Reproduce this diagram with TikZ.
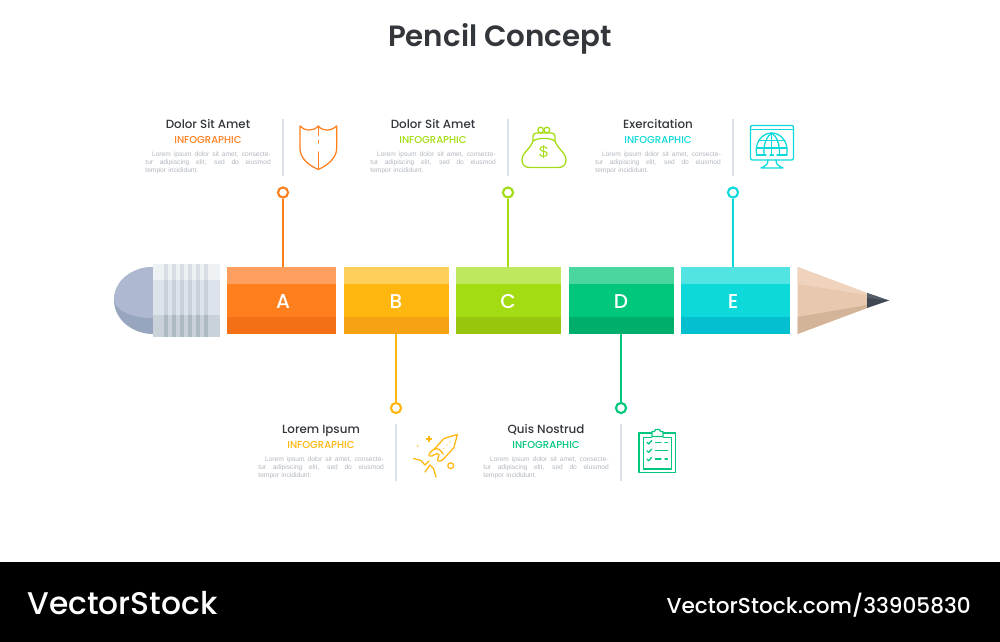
\documentclass[tikz,border=0pt]{standalone}
\usepackage{fontspec}
\setmainfont{Poppins}
\newfontfamily\medfont{Poppins Medium}
\newfontfamily\semifont{Poppins SemiBold}
\newfontfamily\loremfont{Liberation Sans}
\usetikzlibrary{calc}

% colours of the five pencil parts
\definecolor{colA}{HTML}{FF7F1E}
\definecolor{colAtop}{HTML}{FF9F5F}
\definecolor{colAbot}{HTML}{F37016}
\definecolor{colB}{HTML}{FFB60F}
\definecolor{colBtop}{HTML}{FFCF5C}
\definecolor{colBbot}{HTML}{F5A313}
\definecolor{colC}{HTML}{A3DC12}
\definecolor{colCtop}{HTML}{BFE85F}
\definecolor{colCbot}{HTML}{98C60C}
\definecolor{colD}{HTML}{00C77C}
\definecolor{colDtop}{HTML}{4BD6A0}
\definecolor{colDbot}{HTML}{00AE6C}
\definecolor{colE}{HTML}{0DD9DA}
\definecolor{colEtop}{HTML}{52E4E2}
\definecolor{colEbot}{HTML}{03BFCF}
\definecolor{divcol}{HTML}{DDE2E8}
\definecolor{inkcol}{HTML}{33363B}
\definecolor{loremcol}{HTML}{B0B6BE}

\newcommand{\loremline}[1]{\makebox[94pt][s]{\spaceskip=0pt #1}}

\tikzset{
    segbox/.style={inner sep=0pt, outer sep=0pt},
    seglabel/.style={text=white, font=\medfont\fontsize{15}{15}\selectfont},
    ringnode/.style={circle, draw, line width=1.6pt, fill=white, minimum size=7.6pt, inner sep=0pt},
    headlabel/.style={text=inkcol, anchor=base, font=\medfont\fontsize{8.9}{10}\selectfont},
    infolabel/.style={anchor=base, font=\medfont\fontsize{7.5}{8}\selectfont},
    loremlabel/.style={text=loremcol, inner sep=0pt, anchor=north east, align=left, text width=94pt,
        font=\loremfont\fontsize{5}{6}\selectfont},
    iconline/.style={line width=0.95pt, line join=round, line cap=round},
}

\begin{document}
\begin{tikzpicture}[x=0.75pt, y=-0.75pt]

    \useasboundingbox (0, 0) rectangle (1000, 642);

    % title
    \node[text=inkcol, font=\semifont\fontsize{22}{24}\selectfont] (title) at (500, 38.5) {Pencil Concept};

    % eraser
    \fill[color={rgb,255:red,151;green,165;blue,191}] (153, 267) .. controls (132, 267) and (114, 281) .. (114, 300)
        .. controls (114, 319) and (132, 334) .. (153, 334) -- cycle;
    \fill[color={rgb,255:red,174;green,184;blue,208}] (153, 267) .. controls (132, 267) and (114, 281) .. (114, 300)
        .. controls (116, 311) and (132, 318) .. (153, 318) -- cycle;

    % metal band of the eraser
    \fill[color={rgb,255:red,238;green,242;blue,245}] (153, 264) rectangle (219.5, 280);
    \fill[color={rgb,255:red,221;green,227;blue,234}] (153, 280) rectangle (219.5, 315);
    \fill[color={rgb,255:red,201;green,210;blue,217}] (153, 315) rectangle (219.5, 337);
    \foreach \x in {164, 172, 180, 188, 196, 204} {
        \fill[color={rgb,255:red,216;green,222;blue,228}] (\x, 264) rectangle (\x+4, 280);
        \fill[color={rgb,255:red,200;green,208;blue,216}] (\x, 280) rectangle (\x+4, 315);
        \fill[color={rgb,255:red,172;green,185;blue,192}] (\x, 315) rectangle (\x+4, 337);
    }

    % the five parts of the body
    \foreach \name/\left/\right/\letx in {A/227/336/283, B/344/449/396, C/456/561/508, D/569/674/621, E/681/790/733} {
        \node[segbox, fill=col\name, minimum width={(\right-\left)*0.75pt}, minimum height=50.25pt]
            (seg\name) at ({(\left+\right)/2}, 300.5) {};
        \fill[col\name top] (seg\name.north west) rectangle ([shift={(0, 17)}]seg\name.north east);
        \fill[col\name bot] ([shift={(0, -17)}]seg\name.south west) rectangle (seg\name.south east);
        \node[seglabel] (let\name) at (\letx, 301.5) {\name};
    }

    % wooden tip
    \fill[color={rgb,255:red,232;green,201;blue,175}] (797.5, 267) -- (867, 293) -- (867, 308) -- (797.5, 334) -- cycle;
    \fill[color={rgb,255:red,240;green,211;blue,188}] (797.5, 267) -- (867, 293) -- (867, 295) -- (797.5, 284) -- cycle;
    \fill[color={rgb,255:red,212;green,180;blue,152}] (797.5, 334) -- (867, 308) -- (867, 305) -- (797.5, 317) -- cycle;
    \fill[color={rgb,255:red,63;green,71;blue,83}] (867, 293) -- (889, 300.5) -- (867, 308) -- cycle;
    \fill[color={rgb,255:red,85;green,92;blue,106}] (867, 293) -- (889, 300.5) -- (867, 298) -- cycle;

    % text blocks with divider, ring and connector
    \foreach \name/\dx/\dy/\head in {A/0/0/Dolor Sit Amet, B/113/305/Lorem Ipsum, C/225/0/Dolor Sit Amet, D/338/305/Quis Nostrud, E/450/0/Exercitation} {
        \coordinate (divtop\name) at (283+\dx, 119+\dy);
        \coordinate (divbot\name) at (283+\dx, 176+\dy);
        \draw[divcol, line width=1.5pt] (divtop\name) -- (divbot\name);
        \node[headlabel] (head\name) at (208+\dx, 128.5+\dy) {\head};
        \node[infolabel, text=col\name] (info\name) at (208+\dx, 143.5+\dy) {INFOGRAPHIC};
        \node[loremlabel] (lorem\name) at (271+\dx, 151.5+\dy) {%
            \loremline{\hspace*{5pt}Lorem ipsum dolor sit amet, consecte-}\\
            \loremline{tur adipiscing elit, sed do eiusmod}\\
            tempor incididunt.};
    }

    \foreach \name/\x in {A/283, C/508, E/733} {
        \node[ringnode, draw=col\name] (ring\name) at (\x, 192.5) {};
        \draw[col\name, line width=1.5pt] (ring\name) -- (ring\name |- seg\name.north);
    }
    \foreach \name/\x in {B/396, D/621} {
        \node[ringnode, draw=col\name] (ring\name) at (\x, 408) {};
        \draw[col\name, line width=1.5pt] (ring\name) -- (ring\name |- seg\name.south);
    }

    % shield
    \draw[iconline, colA] (300, 126) .. controls (304, 131) and (313, 132) .. (318.3, 126)
        .. controls (323, 132) and (332, 131) .. (336.7, 126) -- (336.7, 148)
        .. controls (336.7, 158) and (328, 165) .. (318.3, 169.5)
        .. controls (308, 165) and (300, 158) .. (300, 148) -- cycle;
    \draw[iconline, colA] (318.3, 126) -- (318.3, 135);
    \draw[iconline, colA] (318.3, 140.5) -- (318.3, 143);
    \draw[iconline, colA] (318.3, 152) -- (318.3, 169);

    % purse
    \draw[iconline, colC] (533, 141) .. controls (530, 150) and (522, 152) .. (522, 160)
        .. controls (522, 165) and (525, 167.5) .. (530, 167.5) -- (558, 167.5)
        .. controls (563, 167.5) and (566, 165) .. (566, 160)
        .. controls (566, 152) and (558, 150) .. (555, 141);
    \draw[iconline, colC] (533, 141) -- (533, 136) .. controls (533, 133.5) and (535, 133) .. (537, 133)
        -- (551, 133) .. controls (553, 133) and (555, 133.5) .. (555, 136) -- (555, 141);
    \draw[iconline, colC] (533, 141) .. controls (538, 137.5) and (550, 137.5) .. (555, 141);
    \draw[iconline, colC] (540.7, 130) circle (2.8);
    \draw[iconline, colC] (546.9, 130) circle (2.8);
    \node[text=colC, inner sep=0pt, font=\loremfont\fontsize{12}{12}\selectfont] (dollar) at (543.5, 152.5) {\$};

    % monitor with globe
    \draw[iconline, colE] (750.5, 127) -- (750.5, 158) .. controls (750.5, 159.5) and (751.5, 160) .. (752.5, 160)
        -- (791.5, 160) .. controls (792.5, 160) and (793.5, 159.5) .. (793.5, 158) -- (793.5, 127)
        .. controls (793.5, 126) and (792.5, 125.5) .. (791.5, 125.5) -- (752.5, 125.5)
        .. controls (751.5, 125.5) and (750.5, 126) .. (750.5, 127) -- cycle;
    \draw[iconline, colE] (750.5, 129.5) -- (793.5, 129.5);
    \draw[iconline, colE] (756.7, 155) .. controls (754, 143) and (762, 133) .. (771.7, 133)
        .. controls (781.5, 133) and (789, 143) .. (786.7, 155);
    \draw[iconline, colE] (764, 155) .. controls (763, 144) and (767, 136) .. (771.7, 133)
        .. controls (776.5, 136) and (780, 144) .. (779.5, 155);
    \draw[iconline, colE] (771.7, 133) -- (771.7, 155);
    \draw[iconline, colE] (758.5, 140.5) -- (785, 140.5);
    \draw[iconline, colE] (756.5, 148) -- (787, 148);
    \draw[iconline, colE] (756.5, 155) -- (766, 155);
    \draw[iconline, colE] (770, 155) -- (773.5, 155);
    \draw[iconline, colE] (777, 155) -- (787, 155);
    \draw[iconline, colE] (768, 160) .. controls (768, 164) and (766, 166) .. (761, 168) -- (783, 168)
        .. controls (778, 166) and (776, 164) .. (776, 160);

    % rocket
    \draw[iconline, colB] (457.3, 434.5) -- (444, 438.5) -- (434, 449.5);
    \draw[iconline, colB] (457.3, 434.5) -- (454, 447.5) -- (443.5, 459);
    \draw[iconline, colB] (434, 449.5) .. controls (428, 453) and (427, 457) .. (432, 456)
        .. controls (436, 453) and (441, 452) .. (438, 458)
        .. controls (436, 462) and (441, 462) .. (443.5, 459);
    \draw[iconline, colB] (434, 449.5) .. controls (437, 447) and (441, 450) .. (443, 454);
    \draw[iconline, colB] (413.5, 458.5) -- (421, 460.5) -- (425, 465) -- (429, 461);
    \draw[iconline, colB] (425, 472) -- (430, 465) -- (433.5, 468.5) -- (436, 477);
    \draw[iconline, colB] (450.7, 465.7) circle (2.9);
    \draw[iconline, colB] (429, 436.5) -- (429, 441.5);
    \draw[iconline, colB] (426.5, 439) -- (431.5, 439);
    \fill[colB] (417.7, 446) circle (0.9);
    \fill[colB] (450, 442) circle (0.7);
    \fill[colB] (447, 445) circle (0.7);
    \fill[colB] (444, 448.5) circle (0.7);

    % clipboard
    \draw[iconline, colD] (651.5, 433) -- (639, 433) -- (639, 472.5) -- (675.3, 472.5) -- (675.3, 433) -- (663.5, 433);
    \draw[iconline, colD] (651.5, 437.8) -- (643.5, 437.8) -- (643.5, 469) -- (671.5, 469) -- (671.5, 437.8) -- (663.5, 437.8);
    \draw[iconline, colD] (652, 436.5) -- (652, 431.5) -- (654.5, 431.5) -- (655.5, 429.5) -- (659.5, 429.5) -- (660.5, 431.5)
        -- (663, 431.5) -- (663, 436.5) -- cycle;
    \foreach \y in {442.3, 450.7, 459} {
        \draw[iconline, colD] (647, \y) -- (648.7, \y+1.7) -- (651.7, \y-1.7);
    }
    \draw[iconline, colD] (655.5, 442.5) -- (661, 442.5);
    \draw[iconline, colD] (665, 442.5) -- (667.5, 442.5);
    \draw[iconline, colD] (655.5, 450.7) -- (667.5, 450.7);
    \draw[iconline, colD] (655.5, 459) -- (661, 459);
    \draw[iconline, colD] (665, 459) -- (667.5, 459);

    % black strip at the bottom
    \fill[black] (0, 562) rectangle (1000, 642);
    \node[text=white, anchor=west, inner sep=0pt, font=\medfont\fontsize{23.5}{28}\selectfont] (brand) at (27, 603.5) {VectorStock};
    \node[text=white, anchor=east, inner sep=0pt, font=\medfont\fontsize{16.2}{20}\selectfont] (link) at (971, 605) {VectorStock.com/33905830};

\end{tikzpicture}
\end{document}
